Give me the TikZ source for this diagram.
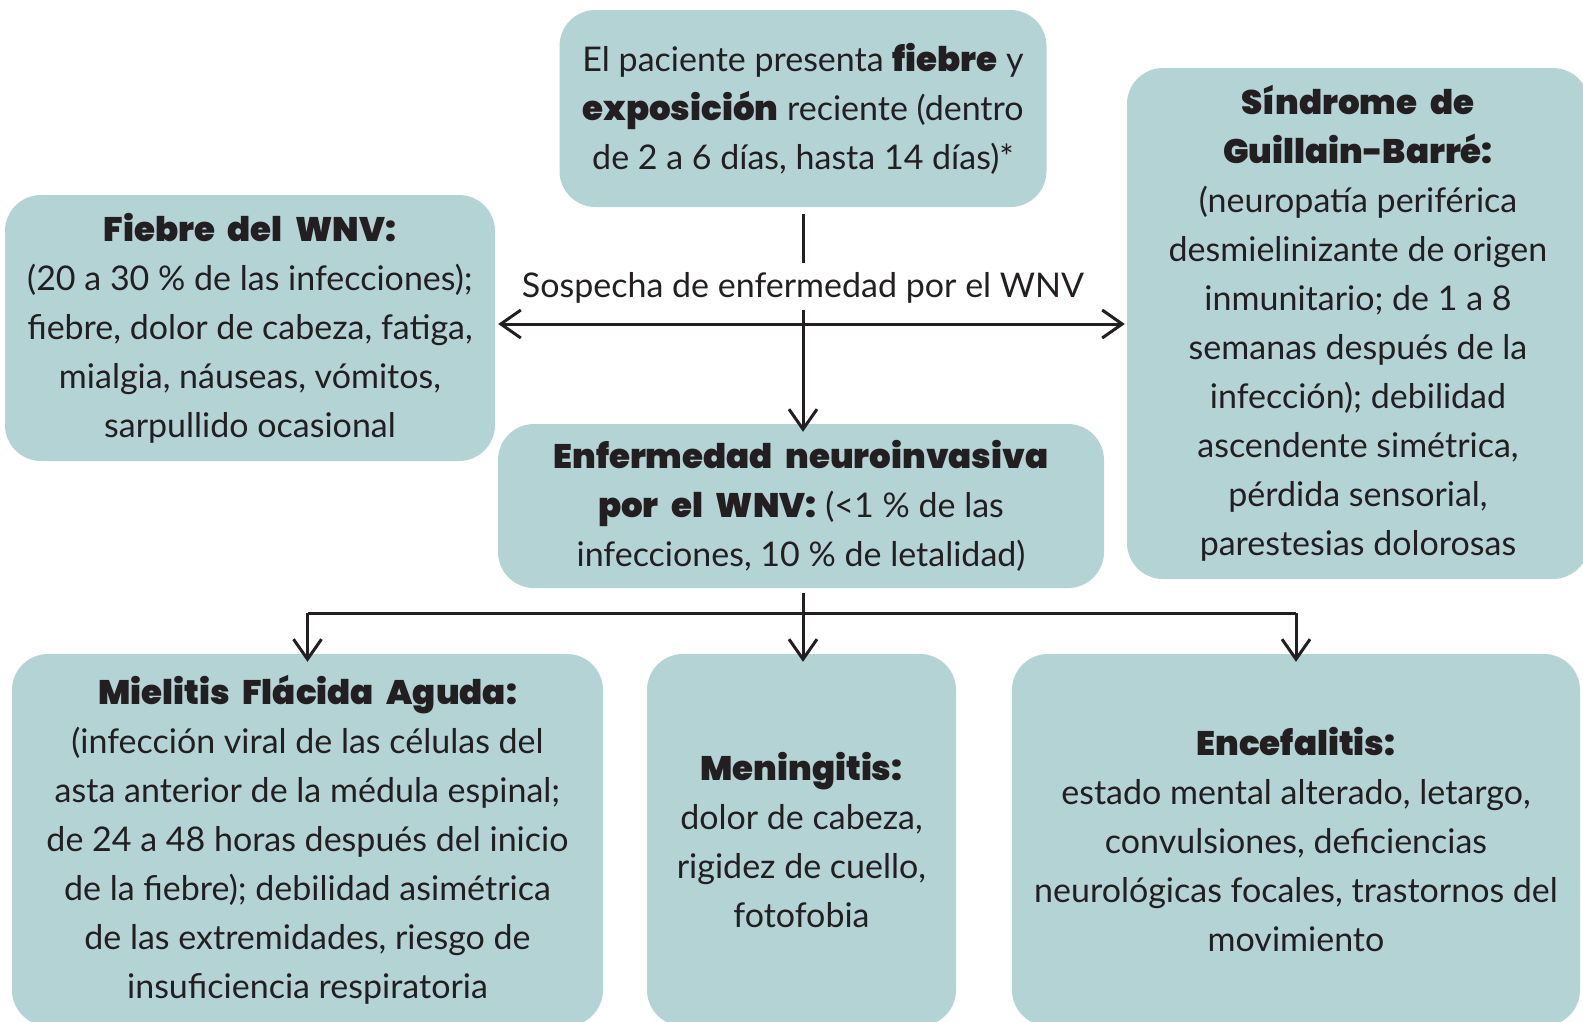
\documentclass[tikz,border=0pt]{standalone}
\usepackage{fontspec}
\setmainfont{Lato}[BoldFont={Poppins Black},BoldFeatures={Scale=1.0,WordSpace=2.2}]
\usetikzlibrary{arrows.meta,positioning}
\definecolor{boxfill}{HTML}{B4D3D5}
\definecolor{ink}{HTML}{231F20}

\begin{document}
\begin{tikzpicture}[x=1pt,y=-1pt,
    box/.style={rounded corners=36pt, fill=boxfill, align=center, text=ink,
        font=\fontsize{34}{49}\selectfont, inner sep=0pt},
    arr/.style={draw=ink, line width=3pt, -{Straight Barb[length=20pt,width=28pt,line width=3pt]}},
    line/.style={draw=ink, line width=3pt}]
    \useasboundingbox (0,0) rectangle (1583,1021);
    \clip (0,0) rectangle (1583,1021);
    \node[box, minimum width=487pt, minimum height=197pt] (expo) at (803,108.5)
        {El paciente presenta \textbf{fiebre} y\\ \textbf{exposición} reciente (dentro\\ de 2 a 6 días, hasta 14 días)*};
    \node[box, minimum width=490pt, minimum height=266pt] (fiebre) at (250,328)
        {\textbf{Fiebre del WNV:}\\ (20 a 30~\% de las infecciones);\\ fiebre, dolor de cabeza, fatiga,\\ mialgia, náuseas, vómitos,\\ sarpullido ocasional};
    \node[box, minimum width=462pt, minimum height=511pt] (gbs) at (1358,323.5)
        {\textbf{Síndrome de}\\ \textbf{Guillain-Barré:}\\ (neuropatía periférica\\ desmielinizante de origen\\ inmunitario; de 1 a 8\\ semanas después de la\\ infección); debilidad\\ ascendente simétrica,\\ pérdida sensorial,\\ parestesias dolorosas};
    \node[box, minimum width=606pt, minimum height=164pt] (neuro) at (801,506)
        {\textbf{Enfermedad neuroinvasiva}\\ \textbf{por el WNV:} (<1~\% de las\\ infecciones, 10~\% de letalidad)};
    \node[box, minimum width=591pt, minimum height=372pt] (mielitis) at (307.5,840)
        {\textbf{Mielitis Flácida Aguda:}\\ (infección viral de las células del\\ asta anterior de la médula espinal;\\ de 24 a 48 horas después del inicio\\ de la fiebre); debilidad asimétrica\\ de las extremidades, riesgo de\\ insuficiencia respiratoria};
    \node[box, minimum width=309pt, minimum height=372pt] (mening) at (801.5,840)
        {\textbf{Meningitis:}\\ dolor de cabeza,\\ rigidez de cuello,\\ fotofobia};
    \node[box, minimum width=568pt, minimum height=372pt] (encef) at (1296,840)
        {\textbf{Encefalitis:}\\ estado mental alterado, letargo,\\ convulsiones, deficiencias\\ neurológicas focales, trastornos del\\ movimiento};
    % sospecha
    \node[text=ink, font=\fontsize{34}{49}\selectfont, inner sep=0pt] (sosp) at (803,288) {Sospecha de enfermedad por el WNV};
    \coordinate (cruce) at (803,324);
    \coordinate (rama) at (803,613);
    \draw[line] ([yshift=-7pt]expo.south) -- ([yshift=9pt]sosp.north -| expo.south);
    \draw[arr, {Straight Barb[length=20pt,width=28pt,line width=3pt]}-{Straight Barb[length=20pt,width=28pt,line width=3pt]}]
        ([xshift=3pt]fiebre.east |- cruce) -- ([xshift=-2pt]gbs.west |- cruce);
    \draw[arr] ([yshift=-6pt]sosp.south -| cruce) -- ([yshift=-8pt]neuro.north -| cruce);
    \draw[line] ([yshift=-5pt]neuro.south -| rama) -- (rama);
    \draw[line] (mielitis.north |- rama) -- (encef.north |- rama);
    \draw[arr] (mielitis.north |- rama) -- ([yshift=-8pt]mielitis.north);
    \draw[arr] (rama) -- ([yshift=-8pt]mening.north -| rama);
    \draw[arr] (encef.north |- rama) -- ([yshift=-8pt]encef.north);
\end{tikzpicture}
\end{document}
